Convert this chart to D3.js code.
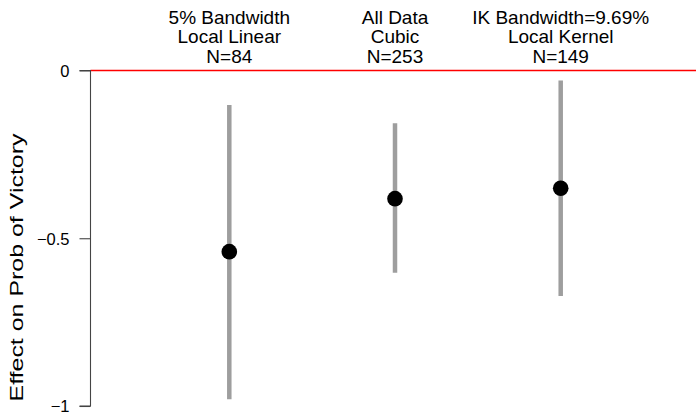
<!DOCTYPE html>
<html>
<head>
<meta charset="utf-8">
<script src="https://cdn.jsdelivr.net/npm/d3@7"></script>
<style>
  html, body { margin: 0; padding: 0; background: #fff; }
  svg { display: block; }
  text { font-family: "Liberation Sans", Arial, sans-serif; fill: #000; }
</style>
</head>
<body>
<svg id="chart" width="696" height="415"></svg>
<script>
// Estimator labels (three lines each), point estimates and interval bounds
const methodLine1 = ["5% Bandwidth", "All Data", "IK Bandwidth=9.69%"];
const methodLine2 = ["Local Linear", "Cubic", "Local Kernel"];
const methodLine3 = ["N=84", "N=253", "N=149"];
const estimates = [-0.540, -0.382, -0.351];
const lowerBounds = [-0.980, -0.603, -0.672];
const upperBounds = [-0.103, -0.157, -0.030];
const yTicks = [0, -0.5, -1];
const yTitle = "Effect on Prob of Victory";

const svg = d3.select("#chart");
const W = 696;
const axisX = 90.5;

const idx = d3.range(estimates.length);
const x = d3.scaleLinear().domain([0, 2]).range([229.3, 560.7]);
const y = d3.scaleLinear().domain([0, -1]).range([70.5, 406]);

// zero reference line
svg.append("line")
  .attr("x1", axisX).attr("x2", W)
  .attr("y1", y(0)).attr("y2", y(0))
  .attr("stroke", "#ff0000").attr("stroke-width", 1.3);

// y axis
const yAxis = d3.axisLeft(y)
  .tickValues(yTicks)
  .tickSize(11)
  .tickPadding(10)
  .tickFormat(d => d === 0 ? "0" : d3.format("")(d));
const gy = svg.append("g")
  .attr("transform", `translate(${axisX},0)`)
  .call(yAxis);
gy.select(".domain").attr("stroke", "#444").attr("stroke-width", 1.1)
  .attr("d", `M-11,${y(0)}H0V${y(-1)}H-11`);
gy.selectAll(".tick line").attr("stroke", "#444").attr("stroke-width", 1.1);
gy.selectAll(".tick text")
  .style("font-family", '"Liberation Sans", Arial, sans-serif')
  .style("font-size", "16.5px")
  .attr("dy", "0.36em")
  .attr("fill", "#000");

// y axis title
svg.append("text")
  .attr("transform", "translate(22.5,267.5) rotate(-90)")
  .attr("text-anchor", "middle")
  .attr("textLength", 268)
  .attr("lengthAdjust", "spacingAndGlyphs")
  .style("font-size", "17.5px")
  .text(yTitle);

// confidence intervals
svg.append("g").selectAll("line")
  .data(idx)
  .join("line")
  .attr("x1", i => x(i)).attr("x2", i => x(i))
  .attr("y1", i => y(upperBounds[i]))
  .attr("y2", i => y(lowerBounds[i]))
  .attr("stroke", "#9e9e9e")
  .attr("stroke-width", 4.5);

// point estimates
svg.append("g").selectAll("circle")
  .data(idx)
  .join("circle")
  .attr("cx", i => x(i))
  .attr("cy", i => y(estimates[i]))
  .attr("r", 7.8)
  .attr("fill", "#000");

// estimator headers
const header = svg.append("g").selectAll("text")
  .data(idx)
  .join("text")
  .attr("text-anchor", "middle")
  .style("font-size", "19px");
[methodLine1, methodLine2, methodLine3].forEach((arr, k) => {
  header.append("tspan")
    .attr("x", i => x(i))
    .attr("y", 23.5 + k * 19.5)
    .text(i => arr[i]);
});
</script>
</body>
</html>
